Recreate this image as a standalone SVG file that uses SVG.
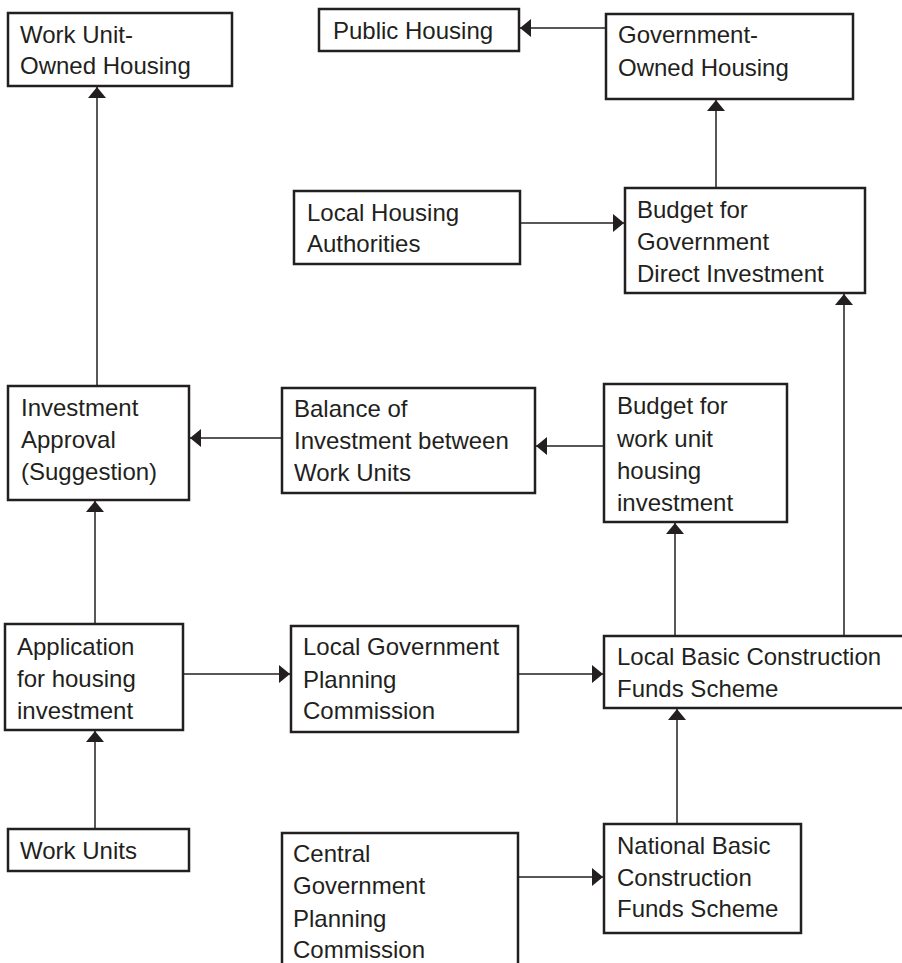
<svg xmlns="http://www.w3.org/2000/svg" width="902" height="963" viewBox="0 0 902 963">
<style>
.box{fill:#fff;stroke:#231f20;stroke-width:2.5}
.t{font-family:"Liberation Sans",Arial,sans-serif;font-size:24px;fill:#231f20}
.c{stroke:#231f20;stroke-width:1.5;fill:none}
</style>
<defs>
<marker id="ah" viewBox="0 0 11 18" refX="11" refY="9" markerWidth="11" markerHeight="18" markerUnits="userSpaceOnUse" orient="auto">
<path d="M0,0 L11,9 L0,18 Z" fill="#231f20"/>
</marker>
</defs>
<rect width="902" height="963" fill="#fff"/>
<g id="connectors">
<line class="c" x1="606" y1="28" x2="520" y2="28" marker-end="url(#ah)"/>
<line class="c" x1="716" y1="188" x2="716" y2="100" marker-end="url(#ah)"/>
<line class="c" x1="520" y1="223" x2="624" y2="223" marker-end="url(#ah)"/>
<line class="c" x1="844" y1="635" x2="844" y2="294" marker-end="url(#ah)"/>
<line class="c" x1="97" y1="386" x2="97" y2="87" marker-end="url(#ah)"/>
<line class="c" x1="282" y1="438" x2="190" y2="438" marker-end="url(#ah)"/>
<line class="c" x1="604" y1="446" x2="536" y2="446" marker-end="url(#ah)"/>
<line class="c" x1="675" y1="635" x2="675" y2="523" marker-end="url(#ah)"/>
<line class="c" x1="95" y1="624" x2="95" y2="501" marker-end="url(#ah)"/>
<line class="c" x1="183" y1="674" x2="290" y2="674" marker-end="url(#ah)"/>
<line class="c" x1="518" y1="674" x2="603" y2="674" marker-end="url(#ah)"/>
<line class="c" x1="95" y1="829" x2="95" y2="731" marker-end="url(#ah)"/>
<line class="c" x1="518" y1="877" x2="603" y2="877" marker-end="url(#ah)"/>
<line class="c" x1="677" y1="824" x2="677" y2="709" marker-end="url(#ah)"/>
</g>
<g id="work-unit-owned-housing">
<rect class="box" x="8" y="13" width="224" height="73"/>
<text class="t" x="20" y="43">Work Unit-</text>
<text class="t" x="20" y="74">Owned Housing</text>
</g>
<g id="public-housing">
<rect class="box" x="319" y="9" width="200" height="42"/>
<text class="t" x="333" y="39">Public Housing</text>
</g>
<g id="government-owned-housing">
<rect class="box" x="606" y="14" width="247" height="85"/>
<text class="t" x="618" y="43">Government-</text>
<text class="t" x="618" y="76">Owned Housing</text>
</g>
<g id="local-housing-authorities">
<rect class="box" x="294" y="191" width="226" height="73"/>
<text class="t" x="307" y="221">Local Housing</text>
<text class="t" x="307" y="252">Authorities</text>
</g>
<g id="budget-government-direct-investment">
<rect class="box" x="625" y="188" width="240" height="105"/>
<text class="t" x="637" y="218">Budget for</text>
<text class="t" x="637" y="250">Government</text>
<text class="t" x="637" y="282">Direct Investment</text>
</g>
<g id="investment-approval">
<rect class="box" x="8" y="386" width="181" height="114"/>
<text class="t" x="21" y="416">Investment</text>
<text class="t" x="21" y="448">Approval</text>
<text class="t" x="21" y="480">(Suggestion)</text>
</g>
<g id="balance-of-investment">
<rect class="box" x="282" y="388" width="253" height="105"/>
<text class="t" x="294" y="417">Balance of</text>
<text class="t" x="294" y="449">Investment between</text>
<text class="t" x="294" y="481">Work Units</text>
</g>
<g id="budget-work-unit-housing">
<rect class="box" x="604" y="384" width="183" height="138"/>
<text class="t" x="617" y="414">Budget for</text>
<text class="t" x="617" y="447">work unit</text>
<text class="t" x="617" y="479">housing</text>
<text class="t" x="617" y="511">investment</text>
</g>
<g id="application-housing-investment">
<rect class="box" x="5" y="624" width="178" height="106"/>
<text class="t" x="17" y="655">Application</text>
<text class="t" x="17" y="687">for housing</text>
<text class="t" x="17" y="719">investment</text>
</g>
<g id="local-government-planning-commission">
<rect class="box" x="291" y="626" width="227" height="106"/>
<text class="t" x="303" y="655">Local Government</text>
<text class="t" x="303" y="688">Planning</text>
<text class="t" x="303" y="719">Commission</text>
</g>
<g id="local-basic-construction-funds">
<rect class="box" x="604" y="636" width="310" height="72"/>
<text class="t" x="617" y="665">Local Basic Construction</text>
<text class="t" x="617" y="697">Funds Scheme</text>
</g>
<g id="work-units">
<rect class="box" x="8" y="829" width="181" height="42"/>
<text class="t" x="20" y="859">Work Units</text>
</g>
<g id="central-government-planning-commission">
<rect class="box" x="282" y="833" width="236" height="150"/>
<text class="t" x="293" y="862">Central</text>
<text class="t" x="293" y="894">Government</text>
<text class="t" x="293" y="927">Planning</text>
<text class="t" x="293" y="958">Commission</text>
</g>
<g id="national-basic-construction-funds">
<rect class="box" x="604" y="824" width="197" height="109"/>
<text class="t" x="617" y="854">National Basic</text>
<text class="t" x="617" y="886">Construction</text>
<text class="t" x="617" y="917">Funds Scheme</text>
</g>
</svg>
